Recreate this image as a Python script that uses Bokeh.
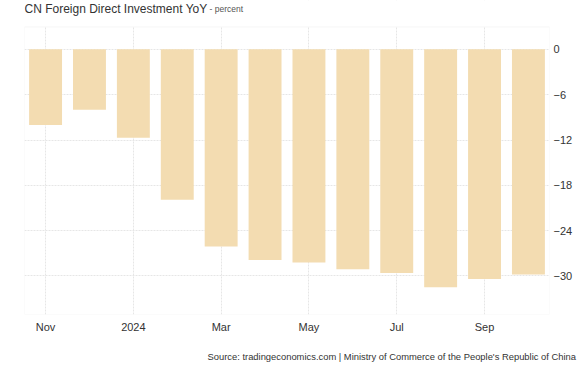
from bokeh.plotting import figure
from bokeh.models import Range1d, FixedTicker, Title, Label, BoxAnnotation
from bokeh.embed import file_html
from bokeh.resources import INLINE

months = ["Nov 2023", "Dec 2023", "Jan 2024", "Feb 2024", "Mar 2024", "Apr 2024",
          "May 2024", "Jun 2024", "Jul 2024", "Aug 2024", "Sep 2024", "Oct 2024"]
values = [-10.0, -8.0, -11.7, -19.9, -26.1, -27.9, -28.2, -29.1, -29.6, -31.5, -30.4, -29.8]
x_tick_labels = {0: "Nov", 2: "2024", 4: "Mar", 6: "May", 8: "Jul", 10: "Sep"}
y_ticks = [0, -6, -12, -18, -24, -30]

xs = list(range(len(months)))

PLOT_TOP = 2.97      # top of the visible plot area (data units)
CANVAS_TOP = 6.47    # frame extends up to canvas top to host the title

p = figure(width=585, height=375, output_backend="svg", toolbar_location=None,
           x_range=Range1d(-0.48, 11.48), y_range=Range1d(-35.1, CANVAS_TOP),
           y_axis_location="right",
           min_border_left=24, min_border_right=36, min_border_top=0, min_border_bottom=61)

p.vbar(x=xs, top=values, bottom=0, width=0.75, fill_color="#F3DCB1", line_color=None)

font = "Liberation Sans"
p.xaxis.ticker = FixedTicker(ticks=list(x_tick_labels.keys()))
p.xaxis.major_label_overrides = x_tick_labels
p.yaxis.ticker = FixedTicker(ticks=y_ticks)
for ax in (p.xaxis, p.yaxis):
    ax.axis_line_color = None
    ax.major_tick_line_color = None
    ax.minor_tick_line_color = None
    ax.major_tick_out = 0
    ax.major_tick_in = 0
    ax.major_label_text_font = font
    ax.major_label_text_font_size = "11px"
    ax.major_label_text_color = "#333333"
p.xaxis.major_label_standoff = 6
p.yaxis.major_label_standoff = 4

p.xgrid.ticker = FixedTicker(ticks=list(x_tick_labels.keys()))
p.ygrid.ticker = FixedTicker(ticks=y_ticks)
for g in (p.xgrid, p.ygrid):
    g.grid_line_color = "#e6e6e6"
    g.grid_line_dash = "2 1"
p.outline_line_color = None
p.background_fill_color = "white"
p.border_fill_color = "white"

# white mask over the title strip, then the plot-area border
p.add_layout(BoxAnnotation(bottom=PLOT_TOP, fill_color="white", fill_alpha=1.0,
                           line_color=None))
p.add_layout(BoxAnnotation(top=PLOT_TOP, fill_alpha=0.0, line_color="#e2e2e2",
                           line_width=1))

# frame bottom is at canvas y=314; screen units are relative to the frame
p.add_layout(Label(x=0, y=314 - 8, x_units="screen", y_units="screen",
                   text="CN Foreign Direct Investment YoY", text_font=font,
                   text_font_size="12px", text_color="#333333",
                   text_baseline="alphabetic"))
p.add_layout(Label(x=185, y=314 - 8, x_units="screen", y_units="screen",
                   text="- percent", text_font=font, text_font_size="8.5px",
                   text_color="#555555", text_baseline="alphabetic"))

p.add_layout(Title(text="Source: tradingeconomics.com | Ministry of Commerce of the People's Republic of China",
                   text_font=font, text_font_size="9.4px", text_color="#333333",
                   text_font_style="normal", align="left", offset=183, standoff=27), "below")

open("out.html", "w").write(file_html(p, INLINE))
